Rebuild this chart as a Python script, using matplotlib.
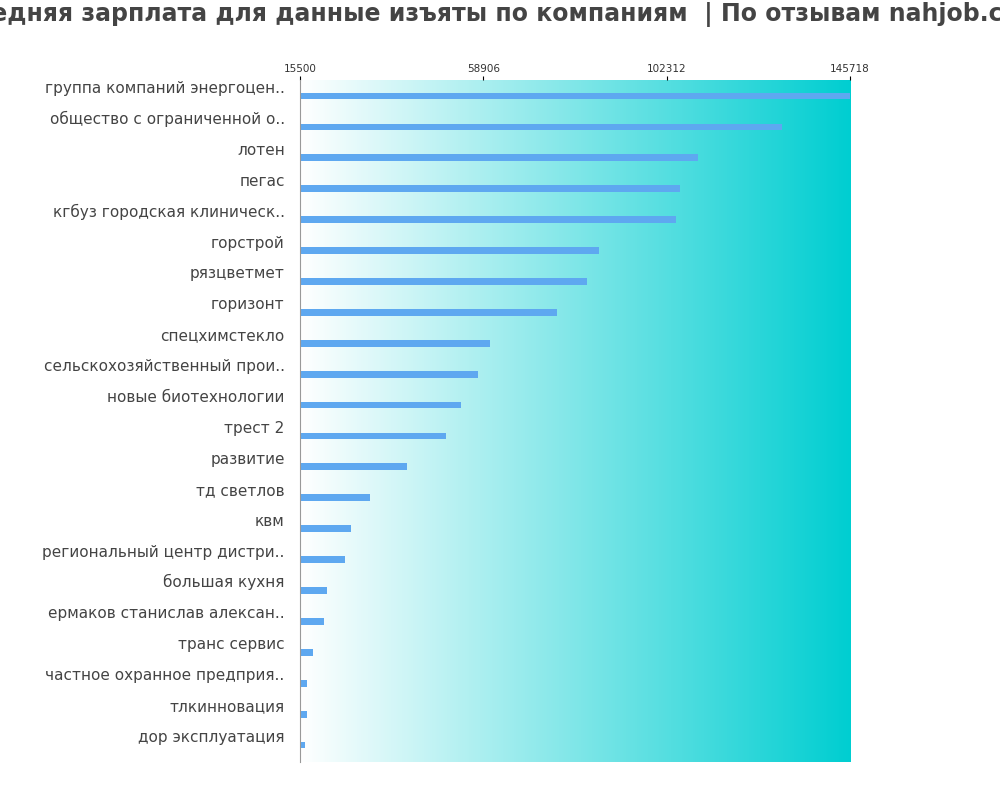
import matplotlib
matplotlib.use("Agg")
import matplotlib.pyplot as plt
import numpy as np
from matplotlib.colors import LinearSegmentedColormap

companies = ["группа компаний энергоцен..", "общество с ограниченной о..", "лотен", "пегас",
             "кгбуз городская клиническ..", "горстрой", "рязцветмет", "горизонт", "спецхимстекло",
             "сельскохозяйственный прои..", "новые биотехнологии", "трест 2", "развитие",
             "тд светлов", "квм", "региональный центр дистри..", "большая кухня",
             "ермаков станислав алексан..", "транс сервис", "частное охранное предприя..",
             "тлкинновация", "дор эксплуатация"]
salaries = [145718, 129600, 109700, 105500, 104500, 86300, 83450, 76350, 60500, 57650,
            53600, 50050, 40850, 32050, 27600, 26150, 21900, 21200, 18600, 17150, 17150, 16700]
ticks = [15500, 58906, 102312, 145718]

fig = plt.figure(figsize=(10, 8), dpi=100)
ax = fig.add_axes([0.3, 0.0475, 0.55, 0.8525])
xmin, xmax = 15500, 145718
n = len(companies)
ylo, yhi = n - 0.45, -0.52
cmap = LinearSegmentedColormap.from_list("g", ["#ffffff", "#00ced1"])
grad = np.linspace(0, 1, 256).reshape(1, -1)
ax.imshow(grad, cmap=cmap, aspect="auto", extent=[xmin, xmax, ylo, yhi], zorder=0)
y = np.arange(n)
ax.barh(y, [s - xmin for s in salaries], left=xmin, height=0.22, color="#5ea8f0", zorder=2)
ax.set_xlim(xmin, xmax)
ax.set_ylim(ylo, yhi)
ax.xaxis.tick_top()
ax.set_xticks(ticks)
ax.set_xticklabels([str(t) for t in ticks], fontsize=7.5, color="#333333")
ax.tick_params(axis="x", length=3, pad=1)
ax.set_yticks(y)
ax.set_yticklabels(companies, fontsize=11, color="#444444", va="bottom")
ax.tick_params(axis="y", length=0, pad=11)
for s in ["top", "right", "bottom"]:
    ax.spines[s].set_visible(False)
ax.spines["left"].set_color("#999999")
fig.text(0.5, 0.982, "Средняя зарплата для данные изъяты по компаниям  | По отзывам nahjob.com",
         ha="center", va="center", fontsize=17, fontweight="bold", color="#444444")
fig.savefig("out.png")
